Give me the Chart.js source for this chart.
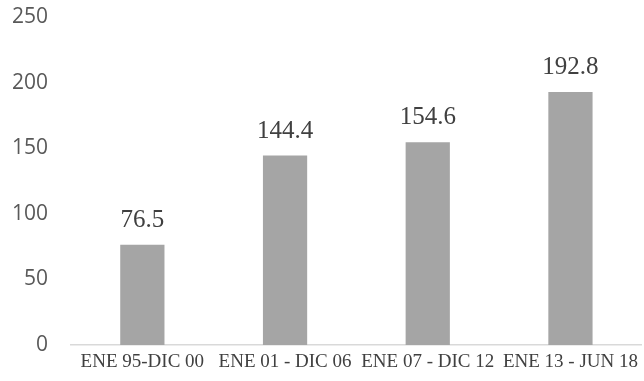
<!DOCTYPE html>
<html>
<head>
<meta charset="utf-8">
<script src="https://cdn.jsdelivr.net/npm/chart.js@4/dist/chart.umd.min.js"></script>
<style>
  html, body { margin: 0; padding: 0; background: #fff; }
  #wrap { width: 644px; height: 381px; }
</style>
</head>
<body>
<div id="wrap"><canvas id="c" width="644" height="381"></canvas></div>
<script>
// Periods and their values
const periods = ['ENE 95-DIC 00', 'ENE 01 - DIC 06', 'ENE 07 - DIC 12', 'ENE 13 - JUN 18'];
const values = [76.5, 144.4, 154.6, 192.8];
const yTicks = [0, 50, 100, 150, 200, 250];

// Writes each bar's value above it
const valueLabels = {
  id: 'valueLabels',
  afterDatasetsDraw(chart) {
    const ctx = chart.ctx;
    const meta = chart.getDatasetMeta(0);
    ctx.save();
    ctx.font = '25px "Liberation Serif", serif';
    ctx.fillStyle = '#404040';
    ctx.textAlign = 'center';
    ctx.textBaseline = 'alphabetic';
    meta.data.forEach((bar, i) => {
      ctx.fillText(values[i].toFixed(1), bar.x, bar.y - 18);
    });
    ctx.restore();
  }
};

new Chart(document.getElementById('c'), {
  type: 'bar',
  data: {
    labels: periods,
    datasets: [{
      data: values,
      backgroundColor: '#A5A5A5',
      borderWidth: 0,
      barPercentage: 0.31,
      categoryPercentage: 1.0
    }]
  },
  options: {
    responsive: false,
    animation: false,
    layout: { padding: { top: 0, right: 0, bottom: 0, left: 0 } },
    plugins: { legend: { display: false }, tooltip: { enabled: false } },
    scales: {
      x: {
        grid: { display: false, drawTicks: false },
        border: { display: true, color: '#D9D9D9', width: 1.5 },
        ticks: {
          color: '#404040',
          font: { family: '"Liberation Serif", serif', size: 19 },
          padding: 6,
          maxRotation: 0,
          autoSkip: false
        },
        afterFit(scale) { scale.height = 36; }
      },
      y: {
        min: 0,
        max: 250,
        afterBuildTicks(scale) { scale.ticks = yTicks.map(v => ({ value: v })); },
        grid: { display: false, drawTicks: false },
        border: { display: false },
        ticks: {
          color: '#595959',
          font: { family: '"Open Sans", sans-serif', size: 21 },
          padding: 23
        },
        afterFit(scale) {
          scale.width = 71;
          scale.paddingTop = 17;
          scale.paddingBottom = 0;
        }
      }
    }
  },
  plugins: [valueLabels]
});
</script>
</body>
</html>
